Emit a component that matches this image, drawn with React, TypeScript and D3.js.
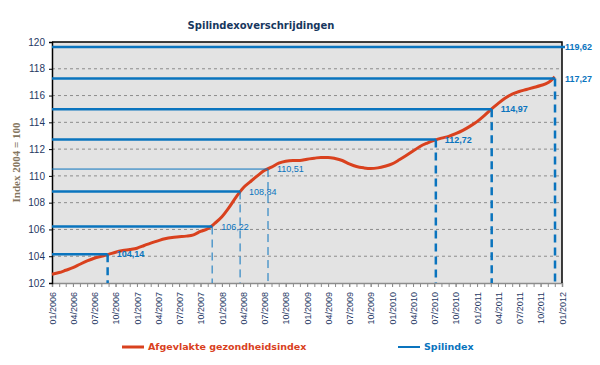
import React, { useEffect, useRef } from "react";
import * as d3 from "d3";

// chart text
const chartTitle = "Spilindexoverschrijdingen";
const yAxisTitle = "Index 2004 = 100";
const seriesNames = ["Afgevlakte gezondheidsindex", "Spilindex"];

// smoothed health index, monthly from 01/2006 to 12/2011
const firstMonth = "2006-01-01";
const healthIndex = [
  102.65, 102.78, 102.95, 103.14, 103.4, 103.65, 103.85, 104.0, 104.14, 104.3, 104.42, 104.5,
  104.6, 104.8, 104.98, 105.15, 105.3, 105.4, 105.45, 105.5, 105.6, 105.85, 106.05, 106.45,
  106.95, 107.65, 108.4, 109.1, 109.55, 110.0, 110.4, 110.65, 110.95, 111.1, 111.15, 111.15,
  111.25, 111.32, 111.38, 111.38, 111.3, 111.15, 110.9, 110.7, 110.6, 110.55, 110.6, 110.72,
  110.9, 111.2, 111.5, 111.85, 112.2, 112.45, 112.65, 112.82, 112.95, 113.15, 113.4, 113.7,
  114.05, 114.5, 114.95, 115.4, 115.8, 116.1, 116.3, 116.45, 116.6, 116.75, 116.95, 117.4,
];

// pivot index thresholds and the dates they were crossed
const spilValues = [104.14, 106.22, 108.84, 110.51, 112.72, 114.97, 117.27, 119.62];
const spilDates = [
  "2006-08-28", "2007-11-20", "2008-03-19", "2008-07-17",
  "2010-07-08", "2011-03-05", "2011-12-02", null,
];
// which drop lines / level lines are drawn thin in the original
const spilThinDrop = [false, true, true, true, false, false, false, false];
const spilThinLevel = [false, false, false, true, false, false, false, false];

const yTicks = [102, 104, 106, 108, 110, 112, 114, 116, 118, 120];
const xDomain = ["2006-01-01", "2012-01-01"];

const W = 600;
const H = 365;
const left = 52, right = 562, top = 42, bottom = 283;
const red = "#D9411E";
const blue = "#0A74BE";
const navy = "#1F3864";

const App = () => {
  const ref = useRef(null);

  useEffect(() => {
    const svg = d3.select(ref.current);
    svg.selectAll("*").remove();

    const parse = d3.utcParse("%Y-%m-%d");
    const x = d3.scaleUtc().domain(xDomain.map(parse)).range([left, right]);
    const y = d3.scaleLinear().domain([102, 120]).range([bottom, top]);

    // plot background
    svg.append("rect")
      .attr("x", left).attr("y", top)
      .attr("width", right - left).attr("height", bottom - top)
      .attr("fill", "#E3E3E3");

    // dashed grid
    svg.append("g")
      .selectAll("line")
      .data(yTicks.filter(t => t > 102 && t < 120))
      .join("line")
      .attr("x1", left).attr("x2", right)
      .attr("y1", d => y(d)).attr("y2", d => y(d))
      .attr("stroke", "#8C8C8C")
      .attr("stroke-width", 1)
      .attr("stroke-dasharray", "3,3");

    // monthly minor ticks
    svg.append("g")
      .attr("transform", `translate(0,${bottom})`)
      .call(d3.axisBottom(x).ticks(d3.utcMonth.every(1)).tickSize(4).tickFormat(() => ""))
      .call(g => g.select(".domain").remove())
      .call(g => g.selectAll("line").attr("stroke", "#8C8C8C"));

    // x axis with quarterly labels
    const xAxis = svg.append("g")
      .attr("transform", `translate(0,${bottom})`)
      .call(d3.axisBottom(x).ticks(d3.utcMonth.every(3)).tickSize(4).tickFormat(d3.utcFormat("%m/%Y")));
    xAxis.select(".domain").attr("stroke", "#8C8C8C").attr("stroke-width", 1.5);
    xAxis.selectAll("line").attr("stroke", "#8C8C8C");
    xAxis.selectAll("text")
      .attr("transform", "rotate(-90)")
      .attr("x", -9).attr("y", 0).attr("dy", "0.35em")
      .attr("text-anchor", "end")
      .attr("fill", navy)
      .style("font-family", "Liberation Sans, Arial, sans-serif")
      .style("font-size", "9px");

    // y axis
    const yAxis = svg.append("g")
      .attr("transform", `translate(${left},0)`)
      .call(d3.axisLeft(y).tickValues(yTicks).tickSize(3).tickPadding(4));
    yAxis.select(".domain").attr("stroke", "#000").attr("stroke-width", 1.5);
    yAxis.selectAll("line").attr("stroke", "#000");
    yAxis.selectAll("text")
      .attr("fill", navy)
      .style("font-family", "Liberation Sans, Arial, sans-serif")
      .style("font-size", "10px");

    // top and right border
    svg.append("path")
      .attr("d", `M${left},${top}H${right}V${bottom}`)
      .attr("fill", "none")
      .attr("stroke", "#000")
      .attr("stroke-width", 1.5);

    // health index line
    const start = parse(firstMonth);
    const points = healthIndex.map((v, i) => ({ date: d3.utcMonth.offset(start, i), value: v }));
    const line = d3.line()
      .x(d => x(d.date))
      .y(d => y(d.value))
      .curve(d3.curveMonotoneX);
    svg.append("path")
      .datum(points)
      .attr("d", line)
      .attr("fill", "none")
      .attr("stroke", red)
      .attr("stroke-width", 3);

    // spilindex thresholds
    const spil = spilValues.map((v, i) => ({
      value: v,
      date: spilDates[i] ? parse(spilDates[i]) : null,
      thinDrop: spilThinDrop[i],
      thinLevel: spilThinLevel[i],
    }));
    const sg = svg.append("g");
    spil.forEach(d => {
      const yy = y(d.value);
      const xx = d.date ? x(d.date) : right + 3;
      sg.append("line")
        .attr("x1", left).attr("x2", xx)
        .attr("y1", yy).attr("y2", yy)
        .attr("stroke", blue).attr("stroke-width", d.thinLevel ? 1 : 2.5);
      if (d.date) {
        sg.append("line")
          .attr("x1", xx).attr("x2", xx)
          .attr("y1", yy).attr("y2", bottom)
          .attr("stroke", blue).attr("stroke-width", d.thinDrop ? 1 : 2.5)
          .attr("stroke-dasharray", "8,5");
      }
      const lx = d.date && x(d.date) < right - 20 ? xx + 9 : right + 3;
      sg.append("text")
        .attr("x", lx).attr("y", yy).attr("dy", "0.35em")
        .attr("fill", blue)
        .style("font-family", "Liberation Sans, Arial, sans-serif")
        .style("font-size", "9px")
        .style("font-weight", d.thinDrop ? "normal" : "bold")
        .text(d3.format(".2f")(d.value).replace(".", ","));
    });

    // title
    svg.append("text")
      .attr("x", 261).attr("y", 29)
      .attr("text-anchor", "middle")
      .attr("fill", "#17375E")
      .style("font-family", "DejaVu Sans, Verdana, sans-serif")
      .style("font-size", "10px")
      .style("font-weight", "bold")
      .text(chartTitle);

    // y axis title
    svg.append("text")
      .attr("transform", `translate(20,${(top + bottom) / 2}) rotate(-90)`)
      .attr("text-anchor", "middle")
      .attr("fill", "#857660")
      .style("font-family", "Liberation Serif, serif")
      .style("font-size", "11px")
      .style("font-weight", "bold")
      .text(yAxisTitle);

    // legend
    const legend = [
      { name: seriesNames[0], color: red, x: 122, w: 3 },
      { name: seriesNames[1], color: blue, x: 398, w: 2 },
    ];
    legend.forEach(l => {
      svg.append("line")
        .attr("x1", l.x).attr("x2", l.x + 22)
        .attr("y1", 347).attr("y2", 347)
        .attr("stroke", l.color).attr("stroke-width", l.w);
      svg.append("text")
        .attr("x", l.x + 26).attr("y", 347).attr("dy", "0.35em")
        .attr("fill", l.color)
        .style("font-family", "DejaVu Sans, Verdana, sans-serif")
        .style("font-size", "9.5px")
        .style("font-weight", "bold")
        .text(l.name);
    });
  }, []);

  return (
    <svg
      ref={ref}
      width={W}
      height={H}
      style={{ position: "absolute", left: 0, top: 0, background: "#fff" }}
    />
  );
};

export default App;
